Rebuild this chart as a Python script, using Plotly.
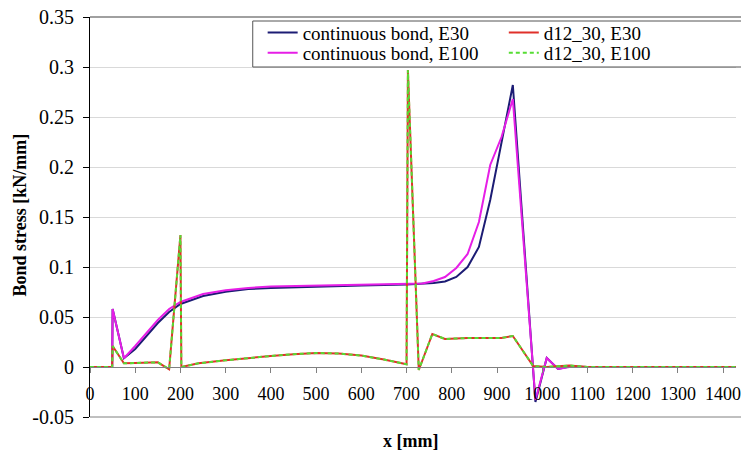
import plotly.graph_objects as go

FONT = "Liberation Serif"

# ---- data ----
x_cont = [0, 49, 50, 75, 100, 125, 150, 175, 200, 225, 250, 300, 350, 400, 500, 600,
          700, 735, 760, 785, 810, 835, 860, 885, 910, 935, 985, 1010, 1035, 1060, 1100, 1500]
y_cont_e30 = [0, 0, 0.058, 0.0087, 0.018, 0.031, 0.044, 0.055, 0.063, 0.067, 0.071, 0.0753,
              0.078, 0.079, 0.0805, 0.0815, 0.0825, 0.083, 0.084, 0.0855, 0.090, 0.100, 0.120,
              0.167, 0.225, 0.282, -0.035, 0.009, -0.002, 0.0005, 0, 0]
y_cont_e100 = [0, 0, 0.058, 0.0087, 0.021, 0.034, 0.047, 0.058, 0.065, 0.069, 0.073, 0.0767,
               0.079, 0.0805, 0.0815, 0.082, 0.083, 0.0835, 0.086, 0.090, 0.099, 0.113, 0.145,
               0.202, 0.230, 0.268, -0.033, 0.009, -0.002, 0.0, 0, 0]

x_d12 = [0, 49, 50, 75, 100, 125, 150, 175, 200, 202, 240, 300, 350, 400, 450, 500, 550, 600,
         650, 700, 703, 727, 757, 785, 835, 910, 935, 980, 1010, 1060, 1100, 1500]
y_d12_e30 = [0, 0, 0.021, 0.0037, 0.004, 0.0045, 0.0047, -0.0023, 0.132, 0.0, 0.0037, 0.0067,
             0.009, 0.011, 0.0128, 0.014, 0.0135, 0.0114, 0.0075, 0.0027, 0.297, -0.003, 0.033,
             0.028, 0.029, 0.029, 0.031, 0.001, 0.0, 0.0015, 0, 0]
y_d12_e100 = [0, 0, 0.021, 0.0037, 0.004, 0.0045, 0.0047, -0.0023, 0.132, 0.0, 0.0037, 0.0067,
              0.009, 0.011, 0.0128, 0.014, 0.0135, 0.0114, 0.0075, 0.0027, 0.297, -0.003, 0.033,
              0.028, 0.029, 0.029, 0.031, 0.001, 0.0, 0.0015, 0, 0]

x_tick_vals = [0, 100, 200, 300, 400, 500, 600, 700, 800, 900, 1000, 1100, 1200, 1300, 1400]
x_tick_text = ["0", "100", "200", "300", "400", "500", "600", "700", "800", "900", "1000",
               "1100", "1200", "1300", "1400"]
y_tick_vals = [-0.05, 0, 0.05, 0.1, 0.15, 0.2, 0.25, 0.3, 0.35]
y_tick_text = ["-0.05", "0", "0.05", "0.1", "0.15", "0.2", "0.25", "0.3", "0.35"]

names = ["continuous bond, E30", "continuous bond, E100", "d12_30, E30", "d12_30, E100"]

# ---- figure ----
W, H = 741, 457
ML, MR, MT, MB = 90, 0, 17, 40
PW, PH = W - ML - MR, H - MT - MB


def px_x(p):
    return (p - ML) / PW


def px_y(p):
    return (H - MB - p) / PH


# styling: a trailing no-break space keeps the y labels a little away from the tick marks
y_tick_display = [t + "\u00a0" for t in y_tick_text]

fig = go.Figure()
fig.add_trace(go.Scatter(x=x_cont, y=y_cont_e30, mode="lines", name=names[0],
                         line=dict(color="#1c1c74", width=2), legend="legend"))
fig.add_trace(go.Scatter(x=x_cont, y=y_cont_e100, mode="lines", name=names[1],
                         line=dict(color="#e61ee6", width=2), legend="legend3"))
fig.add_trace(go.Scatter(x=x_d12, y=y_d12_e30, mode="lines", name=names[2],
                         line=dict(color="#e0302a", width=2), legend="legend2"))
fig.add_trace(go.Scatter(x=x_d12, y=y_d12_e100, mode="lines", name=names[3],
                         line=dict(color="#55dd33", width=2, dash="4px,3px"), legend="legend4"))

leg_font = dict(family=FONT, size=19, color="#000")
row1_top, row2_top = 13.6, 34.0
col1, col2 = 264, 507
common = dict(xanchor="left", yanchor="top", bgcolor="rgba(0,0,0,0)", borderwidth=0,
              font=leg_font, visible=True)

fig.update_layout(
    width=W, height=H,
    showlegend=True,
    margin=dict(l=ML, r=MR, t=MT, b=MB, pad=0),
    paper_bgcolor="white", plot_bgcolor="white",
    font=dict(family=FONT, size=18, color="#000"),
    legend=dict(x=px_x(col1), y=px_y(row1_top), **common),
    legend2=dict(x=px_x(col2), y=px_y(row1_top), **common),
    legend3=dict(x=px_x(col1), y=px_y(row2_top), **common),
    legend4=dict(x=px_x(col2), y=px_y(row2_top), **common),
    xaxis=dict(range=[0, 1428.5], anchor="free", position=0.125,
               showline=True, linecolor="#808080", linewidth=1,
               ticks="outside", ticklen=5, tickcolor="#808080",
               tickvals=x_tick_vals, ticktext=x_tick_text,
               tickfont=dict(family=FONT, size=18, color="#000"),
               ticklabeloverflow="allow", ticklabelstandoff=5,
               showgrid=False, zeroline=False),
    yaxis=dict(range=[-0.05, 0.35], showline=True, linecolor="#000", linewidth=1,
               ticks="outside", ticklen=6, tickcolor="#000",
               tickvals=y_tick_vals, ticktext=y_tick_display,
               tickfont=dict(family=FONT, size=20, color="#000"),
               showgrid=True, gridcolor="#d9d9d9", gridwidth=1, zeroline=False),
    shapes=[
        dict(type="line", xref="paper", yref="paper", x0=0, x1=1.05, y0=1, y1=1,
             line=dict(color="#a0a0a0", width=2), layer="above"),
        dict(type="line", xref="paper", yref="paper", x0=0, x1=1.05, y0=0, y1=0,
             line=dict(color="#808080", width=1), layer="above"),
        dict(type="rect", xref="paper", yref="paper",
             x0=px_x(254), x1=1.05, y0=px_y(67), y1=px_y(21),
             line=dict(color="#555", width=1), fillcolor="white", layer="above"),
    ],
    annotations=[
        dict(text="<b>x [mm]</b>", xref="paper", yref="paper", x=px_x(413), y=px_y(441),
             xanchor="center", yanchor="middle", showarrow=False,
             font=dict(family=FONT, size=18, color="#000")),
        dict(text="<b>Bond stress [kN/mm]</b>", xref="paper", yref="paper",
             x=px_x(19), y=px_y(215), xanchor="center", yanchor="middle",
             textangle=-90, showarrow=False,
             font=dict(family=FONT, size=18, color="#000")),
    ],
)

fig.write_html("out.html")
